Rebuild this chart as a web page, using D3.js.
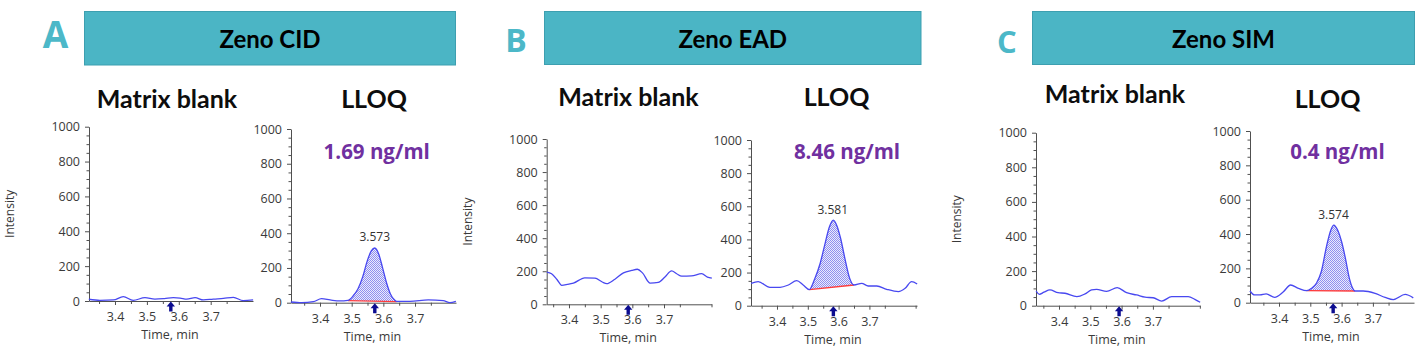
<!DOCTYPE html>
<html>
<head>
<meta charset="utf-8">
<script src="https://cdn.jsdelivr.net/npm/d3@7"></script>
<style>
  html, body { margin: 0; padding: 0; background: #fff; }
  svg { display: block; }
</style>
</head>
<body>
<svg id="chart" width="1423" height="352"></svg>
<script>
// ---------------- DATA ----------------
const sectionLetters = ["A", "B", "C"];
const sectionTitles = ["Zeno CID", "Zeno EAD", "Zeno SIM"];
const panelTitles = ["Matrix blank", "LLOQ"];
const concentrations = ["1.69 ng/ml", "8.46 ng/ml", "0.4 ng/ml"];
const peakLabels = ["3.573", "3.581", "3.574"];
const peakRT = [3.573, 3.581, 3.574];
const arrowRT = [3.575, 3.573, 3.587, 3.583, 3.592, 3.573];
const yTickValues = [0, 200, 400, 600, 800, 1000];
const xTickValues = [3.4, 3.5, 3.6, 3.7];
const xAxisTitle = "Time, min";
const yAxisTitle = "Intensity";

// chromatogram traces: [time (min), intensity]
const cidBlank = [[3.318,10],[3.353,4],[3.395,6],[3.426,25],[3.457,4],[3.494,19],[3.525,11],[3.555,14],[3.583,19],[3.604,17],[3.625,11],[3.651,19],[3.677,6],[3.708,11],[3.74,15],[3.771,21],[3.802,2],[3.833,6]];
const cidLloq = [[3.308,4],[3.342,0],[3.379,6],[3.405,23],[3.432,16],[3.463,10],[3.488,13],[3.505,40],[3.52,80],[3.535,150],[3.55,245],[3.562,298],[3.573,315],[3.585,282],[3.597,205],[3.61,115],[3.622,52],[3.634,18],[3.642,8],[3.684,8],[3.742,16],[3.789,12],[3.81,0],[3.829,8]];
const eadBlank = [[3.330,195],[3.345,185],[3.362,150],[3.377,115],[3.395,120],[3.414,128],[3.45,160],[3.482,158],[3.505,135],[3.519,125],[3.545,152],[3.572,190],[3.598,205],[3.616,212],[3.632,190],[3.656,128],[3.682,132],[3.703,165],[3.724,202],[3.74,185],[3.756,170],[3.787,172],[3.819,185],[3.837,165],[3.851,158]];
const eadLloq = [[3.316,135],[3.339,145],[3.377,111],[3.41,111],[3.437,125],[3.464,151],[3.485,125],[3.505,97],[3.522,160],[3.54,255],[3.556,375],[3.57,475],[3.583,517],[3.595,480],[3.606,410],[3.621,280],[3.636,165],[3.65,125],[3.675,135],[3.696,119],[3.724,119],[3.756,99],[3.794,85],[3.816,105],[3.837,145],[3.855,131]];
const simBlank = [[3.327,85],[3.337,66],[3.352,78],[3.371,91],[3.397,75],[3.419,72],[3.457,52],[3.483,68],[3.504,91],[3.52,94],[3.552,83],[3.586,104],[3.616,75],[3.648,62],[3.675,49],[3.701,46],[3.728,27],[3.76,52],[3.813,52],[3.834,37],[3.851,20]];
const simLloq = [[3.307,68],[3.322,45],[3.339,45],[3.359,51],[3.386,31],[3.414,64],[3.437,103],[3.462,84],[3.488,70],[3.504,84],[3.52,115],[3.535,180],[3.552,330],[3.566,425],[3.575,452],[3.588,420],[3.6,355],[3.612,260],[3.625,140],[3.635,85],[3.643,68],[3.669,68],[3.707,54],[3.739,31],[3.765,18],[3.803,48],[3.829,28]];

// integration baselines (red) for LLOQ peaks: [[t0,v0],[t1,v1]]
const cidBaseline = [[3.488,12],[3.642,6]];
const eadBaseline = [[3.505,97],[3.65,125]];
const simBaseline = [[3.488,70],[3.643,68]];

// ---------------- LAYOUT ----------------
const teal = "#4bb5c5", tealStroke = "#3d9fb0", tealLetter = "#4cb8c8";
const lineBlue = "#4848f0", purple = "#7030a0";

const sections = [
  {box:[84,11,456,65.5], titleY:47.5, letter:{x:55.5, y:48.3, size:37},
   sub:[{x:167,y:108},{x:374,y:108}], conc:{x:376.7,y:159}},
  {box:[544,11,921.5,65], titleY:48.3, letter:{x:516, y:51.7, size:32},
   sub:[{x:628.5,y:106},{x:836.5,y:106}], conc:{x:847,y:159}},
  {box:[1032,11,1415,65], titleY:48.3, letter:{x:1007, y:53.3, size:31},
   sub:[{x:1115,y:103},{x:1327.5,y:108}], conc:{x:1337.5,y:159.3}}
];

const panels = [
  {data:cidBlank, left:89,    right:253,   top:126.7, bottom:301,   domain:[3.3185,3.8326], blank:true},
  {data:cidLloq,  left:291,   right:456,   top:129,   bottom:302.7, domain:[3.3084,3.8294], blank:false, base:cidBaseline, sec:0},
  {data:eadBlank, left:546.7, right:711.7, top:139,   bottom:304.3, domain:[3.3296,3.8506], blank:true},
  {data:eadLloq,  left:751,   right:917,   top:140,   bottom:305.7, domain:[3.3156,3.8545], blank:false, base:eadBaseline, sec:1},
  {data:simBlank, left:1036,  right:1200,  top:132.7, bottom:305.7, domain:[3.3265,3.8505], blank:true},
  {data:simLloq,  left:1250,  right:1414,  top:131,   bottom:302.7, domain:[3.3073,3.8313], blank:false, base:simBaseline, sec:2}
];

const svg = d3.select("#chart");

// dotted fill pattern
const defs = svg.append("defs");
const pat = defs.append("pattern").attr("id","dots").attr("patternUnits","userSpaceOnUse")
  .attr("width",2).attr("height",2);
pat.append("rect").attr("width",2).attr("height",2).attr("fill","#ebebfd");
pat.append("rect").attr("x",0).attr("y",0).attr("width",1).attr("height",1).attr("fill","#9090ee");
pat.append("rect").attr("x",1).attr("y",1).attr("width",1).attr("height",1).attr("fill","#9090ee");

// ---------------- HEADERS ----------------
sections.forEach((s, i) => {
  const [x0,y0,x1,y1] = s.box;
  svg.append("rect").attr("x",x0+0.5).attr("y",y0+0.5).attr("width",x1-x0-1).attr("height",y1-y0-1)
    .attr("fill",teal).attr("stroke",tealStroke).attr("stroke-width",1);
  svg.append("text").attr("x",(x0+x1)/2).attr("y",s.titleY).attr("text-anchor","middle")
    .attr("font-family","Lato, 'Open Sans', sans-serif").attr("font-weight",700).attr("font-size",24)
    .attr("fill","#000").text(sectionTitles[i]);
  svg.append("text").attr("x",s.letter.x).attr("y",s.letter.y).attr("text-anchor","middle")
    .attr("font-family","'Open Sans', sans-serif").attr("font-weight",700).attr("font-size",s.letter.size)
    .attr("fill",tealLetter).text(sectionLetters[i]);
  s.sub.forEach((p, j) => {
    svg.append("text").attr("x",p.x).attr("y",p.y).attr("text-anchor","middle")
      .attr("font-family","Lato, 'Open Sans', sans-serif").attr("font-weight",700).attr("font-size",25)
      .attr("fill","#0d0d0d").text(panelTitles[j]);
  });
  svg.append("text").attr("x",s.conc.x).attr("y",s.conc.y).attr("text-anchor","middle")
    .attr("font-family","'Open Sans', sans-serif").attr("font-weight",700).attr("font-size",20.5)
    .attr("fill",purple).text(concentrations[i]);
});

// ---------------- PANELS ----------------
const axisColor = "#505050", textColor = "#3a3a3a";
const curve = d3.curveMonotoneX;

panels.forEach((p, idx) => {
  const x = d3.scaleLinear().domain(p.domain).range([p.left, p.right]);
  const y = d3.scaleLinear().domain([0, 1000]).range([p.bottom, p.top]);
  const g = svg.append("g");

  // minor y ticks
  const yMinor = d3.range(0, 1001, 50).filter(v => v % 200 !== 0);
  g.append("g").attr("transform",`translate(${p.left},0)`)
    .call(d3.axisLeft(y).tickValues(yMinor).tickSize(2.5).tickFormat(""))
    .call(a => a.select(".domain").remove())
    .call(a => a.selectAll("line").attr("stroke",axisColor));
  // major y axis
  g.append("g").attr("transform",`translate(${p.left},0)`)
    .call(d3.axisLeft(y).tickValues(yTickValues).tickSize(4).tickSizeOuter(0).tickPadding(5)
      .tickFormat(d3.format("d")))
    .call(a => a.select(".domain").attr("stroke",axisColor))
    .call(a => a.selectAll("line").attr("stroke",axisColor))
    .call(a => a.selectAll("text").attr("fill",textColor).attr("font-size",12.5)
      .attr("font-family","'Open Sans', sans-serif"));

  // minor x ticks
  const xMinor = d3.range(3.35, p.domain[1], 0.1).map(v => +v.toFixed(2)).filter(v => v > p.domain[0]);
  g.append("g").attr("transform",`translate(0,${p.bottom})`)
    .call(d3.axisBottom(x).tickValues(xMinor).tickSize(3).tickFormat(""))
    .call(a => a.select(".domain").remove())
    .call(a => a.selectAll("line").attr("stroke",axisColor));
  // major x axis
  g.append("g").attr("transform",`translate(0,${p.bottom})`)
    .call(d3.axisBottom(x).tickValues(xTickValues).tickSize(4).tickSizeOuter(0).tickPadding(7)
      .tickFormat(d3.format(".1f")))
    .call(a => a.select(".domain").attr("stroke",axisColor))
    .call(a => a.selectAll("line").attr("stroke",axisColor))
    .call(a => a.selectAll("text").attr("fill",textColor).attr("font-size",12.5)
      .attr("font-family","'Open Sans', sans-serif"));

  // axis titles
  g.append("text").attr("x",(p.left+p.right)/2 - 1).attr("y",p.bottom+38).attr("text-anchor","middle")
    .attr("font-family","'Open Sans', sans-serif").attr("font-size",12.5).attr("fill",textColor)
    .text(xAxisTitle);
  if (p.blank) {
    const cy = (p.top + p.bottom) / 2;
    g.append("text").attr("transform",`translate(${p.left-75},${cy}) rotate(-90)`)
      .attr("text-anchor","middle")
      .attr("font-family","'Open Sans', sans-serif").attr("font-size",12).attr("fill",textColor)
      .text(yAxisTitle);
  }

  // peak fill + baseline
  if (!p.blank) {
    const [b0, b1] = p.base;
    const bl = t => b0[1] + (b1[1]-b0[1]) * (t - b0[0]) / (b1[0]-b0[0]);
    const seg = p.data.filter(d => d[0] >= b0[0] - 1e-9 && d[0] <= b1[0] + 1e-9);
    const area = d3.area().curve(curve).x(d => x(d[0])).y0(d => y(bl(d[0]))).y1(d => y(d[1]));
    g.append("path").datum(seg).attr("d",area).attr("fill","url(#dots)").attr("stroke","none");
    g.append("line").attr("x1",x(b0[0])).attr("y1",y(b0[1])).attr("x2",x(b1[0])).attr("y2",y(b1[1]))
      .attr("stroke","#ff3b3b").attr("stroke-width",1.3);
  }

  // trace
  const line = d3.line().curve(curve).x(d => x(d[0])).y(d => y(d[1]));
  g.append("path").datum(p.data).attr("d",line).attr("fill","none")
    .attr("stroke",lineBlue).attr("stroke-width",1.3);

  // peak label
  if (!p.blank) {
    const apex = d3.max(p.data, d => d[1]);
    g.append("text").attr("x",x(peakRT[p.sec])).attr("y",y(apex)-6.5).attr("text-anchor","middle")
      .attr("font-family","'Open Sans', sans-serif").attr("font-size",12).attr("fill","#333")
      .text(peakLabels[p.sec]);
  }

  // expected RT arrow
  const ax = x(arrowRT[idx]), ay = y(0);
  g.append("path")
    .attr("d",`M${ax},${ay+0.5} L${ax+4.2},${ay+5.5} L${ax+1.7},${ay+5.5} L${ax+1.7},${ay+10.5} L${ax-1.7},${ay+10.5} L${ax-1.7},${ay+5.5} L${ax-4.2},${ay+5.5} Z`)
    .attr("fill","#0c0c90");
});
</script>
</body>
</html>
